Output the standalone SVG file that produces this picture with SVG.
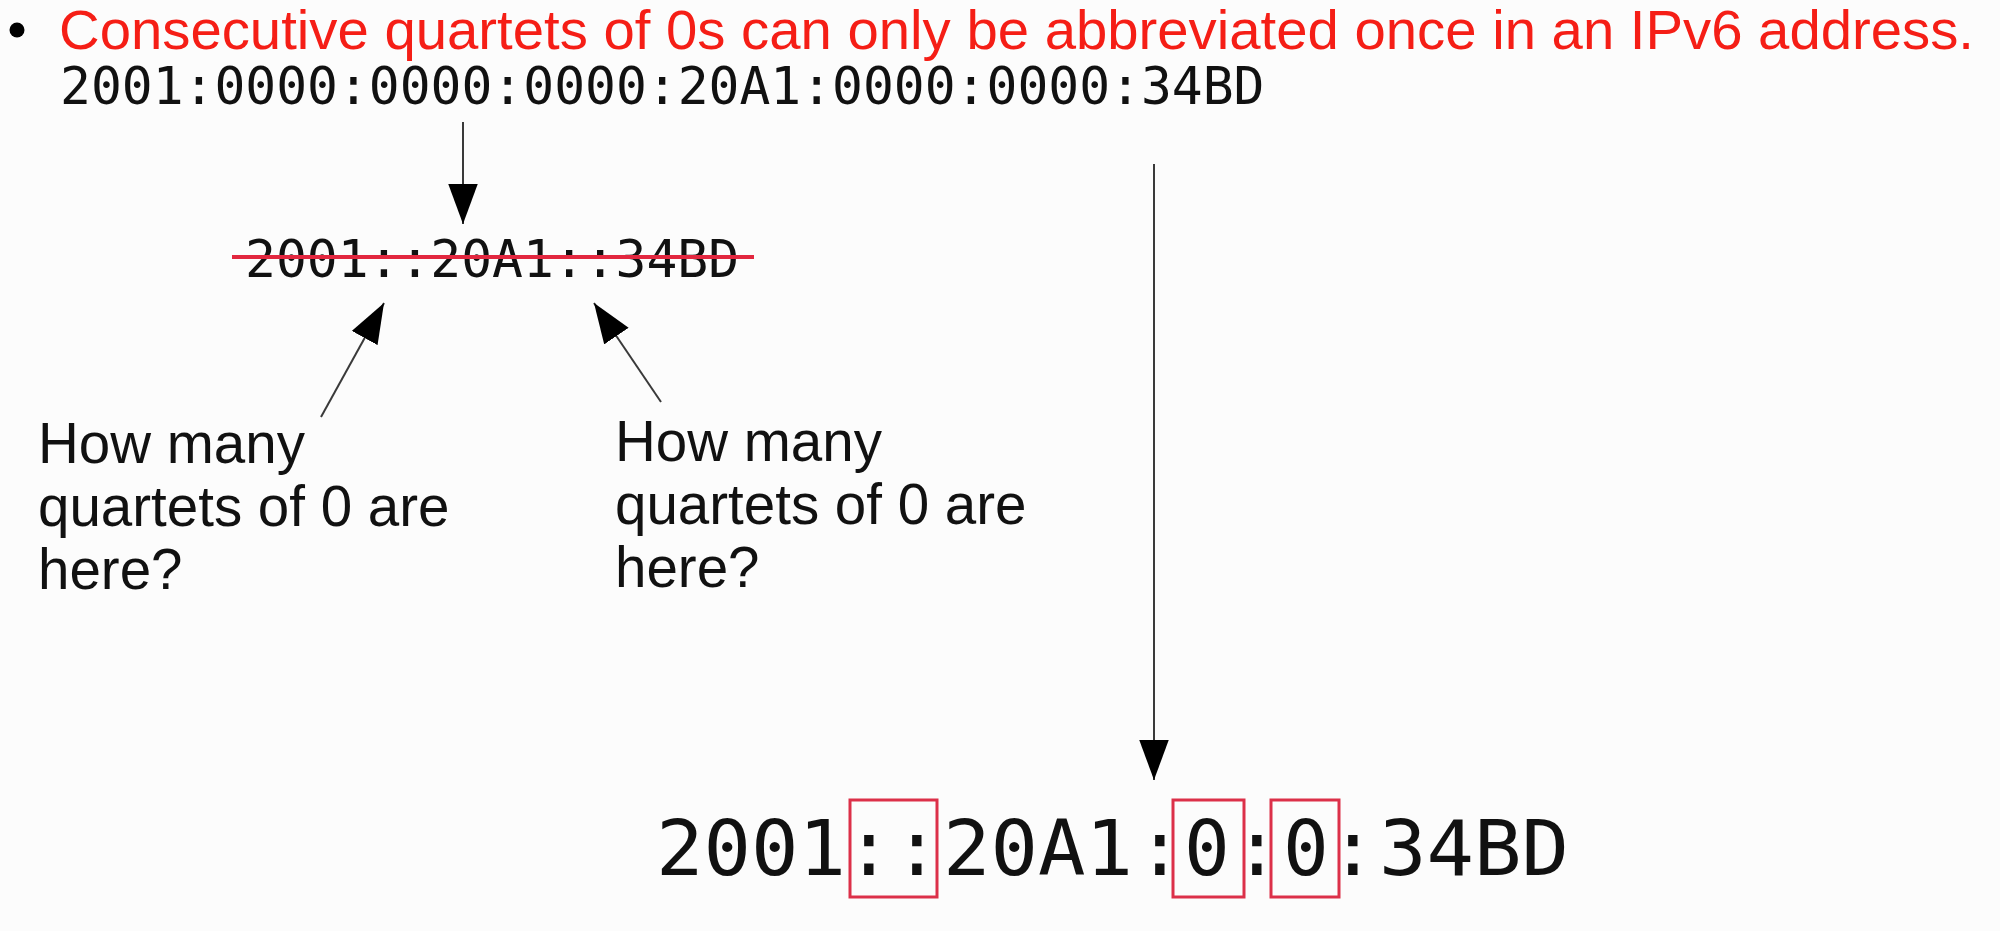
<svg xmlns="http://www.w3.org/2000/svg" width="2000" height="931" viewBox="0 0 2000 931">
<style>
.title{font-family:"Liberation Sans",Arial,sans-serif;font-size:55px;fill:#f51e16}
.mono{font-family:"DejaVu Sans Mono",monospace;fill:#111}
.addr{font-size:51.3px}
.big{font-size:76px}
.label{font-family:"Liberation Sans",Arial,sans-serif;font-size:56.5px;fill:#111}
.conn{stroke:#3a3a3a;stroke-width:2;fill:none}
.box{fill:none;stroke:#dc3049;stroke-width:3}
</style>
<defs>
<marker id="ah" markerUnits="userSpaceOnUse" markerWidth="40" markerHeight="30" viewBox="0 0 38 28" refX="38" refY="14" orient="auto">
<path d="M0,0 L38,14 L0,28 z" fill="#000"/>
</marker>
</defs>
<rect width="2000" height="931" fill="#fcfcfc"/>
<g id="heading">
<circle cx="17" cy="30" r="7.5" fill="#000"/>
<text class="title" x="59" y="49" textLength="1915" lengthAdjust="spacingAndGlyphs">Consecutive quartets of 0s can only be abbreviated once in an IPv6 address.</text>
</g>
<g id="full-address">
<text class="mono addr" x="60" y="104">2001:0000:0000:0000:20A1:0000:0000:34BD</text>
</g>
<g id="wrong-abbrev">
<text class="mono addr" x="245" y="277">2001::20A1::34BD</text>
<line x1="232" y1="257" x2="754" y2="257" stroke="#e2273f" stroke-width="4"/>
</g>
<g id="label-left">
<text class="label" x="38" y="463">How many</text>
<text class="label" x="38" y="526">quartets of 0 are</text>
<text class="label" x="38" y="589">here?</text>
</g>
<g id="label-right">
<text class="label" x="615" y="461">How many</text>
<text class="label" x="615" y="524">quartets of 0 are</text>
<text class="label" x="615" y="587">here?</text>
</g>
<g id="correct-abbrev" class="mono big">
<text x="751" y="875" text-anchor="middle" textLength="190" lengthAdjust="spacingAndGlyphs">2001</text>
<text x="869" y="875" text-anchor="middle">:</text>
<text x="917" y="875" text-anchor="middle">:</text>
<text x="1038" y="875" text-anchor="middle" textLength="190" lengthAdjust="spacingAndGlyphs">20A1</text>
<text x="1160" y="875" text-anchor="middle">:</text>
<text x="1207" y="875" text-anchor="middle">0</text>
<text x="1257" y="875" text-anchor="middle">:</text>
<text x="1306" y="875" text-anchor="middle">0</text>
<text x="1353" y="875" text-anchor="middle">:</text>
<text x="1474" y="875" text-anchor="middle" textLength="190" lengthAdjust="spacingAndGlyphs">34BD</text>
<rect class="box" x="850" y="800" width="87" height="97"/>
<rect class="box" x="1173" y="800" width="71" height="97"/>
<rect class="box" x="1271" y="800" width="68" height="97"/>
</g>
<g id="connectors">
<line class="conn" x1="463" y1="122" x2="463" y2="224" marker-end="url(#ah)"/>
<line class="conn" x1="321" y1="417" x2="384" y2="303" marker-end="url(#ah)"/>
<line class="conn" x1="661" y1="402" x2="594" y2="303" marker-end="url(#ah)"/>
<line class="conn" x1="1154" y1="164" x2="1154" y2="780" marker-end="url(#ah)"/>
</g>
</svg>
